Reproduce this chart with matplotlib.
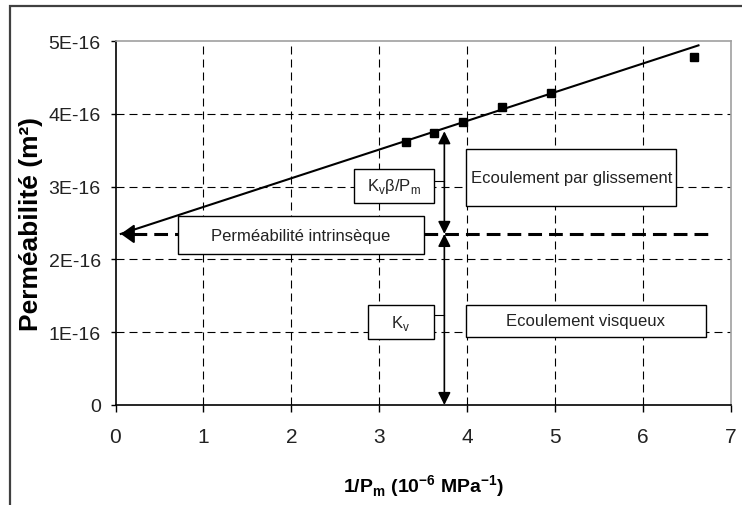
from matplotlib import pyplot as plt
from matplotlib.patches import Rectangle
import numpy as np

# mesures (1/Pm en 10^-6 MPa^-1, permeabilite en 1E-16 m2)
inv_pm = [3.30, 3.62, 3.95, 4.39, 4.95, 6.58]
perm = [3.61, 3.74, 3.89, 4.10, 4.29, 4.78]

# droite de regression (extremites)
fit_x = [6.63, 0.06]
fit_y = [4.94, 2.35]

k_intr = 2.35       # permeabilite intrinseque
x_fleche = 3.74     # position des fleches verticales
k_haut = 3.76

y_ticks = [0, 1, 2, 3, 4, 5]
y_labels = ['0', '1E-16', '2E-16', '3E-16', '4E-16', '5E-16']
x_ticks = [0, 1, 2, 3, 4, 5, 6, 7]

plt.rcParams['font.family'] = ['Liberation Sans', 'DejaVu Sans']
plt.rcParams['mathtext.fontset'] = 'custom'
plt.rcParams['mathtext.rm'] = 'Liberation Sans'

fig = plt.figure(figsize=(7.42, 5.06), dpi=100)
ax = fig.add_axes([115.5 / 742, 1 - 406 / 506, (731 - 115.5) / 742, (406 - 42) / 506])

# cadre exterieur
fig.patches.append(Rectangle((10 / 742, -0.1), 1.2, 1.1 - 7 / 506,
                             transform=fig.transFigure, fill=False,
                             edgecolor='#404040', lw=1.6, zorder=0))

ax.set_xlim(0, 7)
ax.set_ylim(0, 5)

# grille
for yv in y_ticks[1:-1]:
    ax.axhline(yv, color='black', lw=0.8, dashes=(7.2, 4.5), zorder=1)
for xv in x_ticks[1:-1]:
    ax.axvline(xv, color='black', lw=0.8, dashes=(7.2, 4.5), zorder=1)

# droite et points
ax.plot(fit_x, fit_y, color='black', lw=1.5, zorder=3)
ax.plot(inv_pm, perm, linestyle='None', marker='s', ms=6, color='black', zorder=4)

# ligne de permeabilite intrinseque
ax.plot([0.2, 6.76], [k_intr, k_intr], color='black', lw=2.2, dashes=(4.5, 2.3), zorder=3)
ax.annotate('', xy=(0.06, k_intr), xytext=(0.22, k_intr),
            arrowprops=dict(arrowstyle='-|>,head_length=0.45,head_width=0.32',
                            mutation_scale=18, color='black', lw=1.5,
                            shrinkA=0, shrinkB=0), zorder=5)

# fleches verticales
fleche = dict(arrowstyle='<|-|>,head_length=0.5,head_width=0.25', mutation_scale=15,
              color='black', lw=1.2, shrinkA=0, shrinkB=0)
ax.annotate('', xy=(x_fleche, k_haut), xytext=(x_fleche, k_intr), arrowprops=fleche, zorder=5)
ax.annotate('', xy=(x_fleche, 0), xytext=(x_fleche, k_intr), arrowprops=fleche, zorder=5)

# boites de texte
boxes = [
    (2.71, 2.78, 3.62, 3.24, r'K$_\mathregular{v}$β/P$_\mathregular{m}$'),
    (3.99, 2.73, 6.38, 3.52, 'Ecoulement par glissement'),
    (0.71, 2.08, 3.51, 2.59, 'Perméabilité intrinsèque'),
    (2.87, 0.90, 3.62, 1.37, r'K$_\mathregular{v}$'),
    (3.99, 0.94, 6.71, 1.37, 'Ecoulement visqueux'),
]
for x0, y0, x1, y1, txt in boxes:
    ax.add_patch(Rectangle((x0, y0), x1 - x0, y1 - y0, facecolor='white',
                           edgecolor='black', lw=1.0, zorder=6))
    ax.text((x0 + x1) / 2, (y0 + y1) / 2, txt, ha='center', va='center',
            fontsize=12, color='#222222', zorder=7)

# petits traits de liaison
ax.plot([3.62, x_fleche], [3.08, 3.08], color='black', lw=0.8, zorder=5)
ax.plot([3.62, x_fleche], [1.23, 1.23], color='black', lw=0.8, zorder=5)

# axes
ax.set_yticks(y_ticks)
ax.set_yticklabels(y_labels)
ax.set_xticks(x_ticks)
ax.tick_params(axis='y', direction='out', length=3.6, width=1, pad=7,
               labelsize=14, labelcolor='#222222')
ax.tick_params(axis='x', direction='out', length=5, width=1, pad=11,
               labelsize=15, labelcolor='#222222')
for s in ['left', 'bottom']:
    ax.spines[s].set_color('black')
    ax.spines[s].set_linewidth(1.2)
for s in ['top', 'right']:
    ax.spines[s].set_color('#a0a0a0')
    ax.spines[s].set_linewidth(1.2)

ax.set_ylabel('Perméabilité (m²)', fontsize=19, fontweight='bold', va='center')
ax.yaxis.set_label_coords(-0.137, 0.5)
ax.set_xlabel(r'1/P$_\mathregular{m}$ (10$^\mathregular{-6}$ MPa$^\mathregular{-1}$)',
              fontsize=14, fontweight='bold', va='top')
ax.xaxis.set_label_coords(0.5, -0.184)

fig.savefig('out.png', dpi=100)
